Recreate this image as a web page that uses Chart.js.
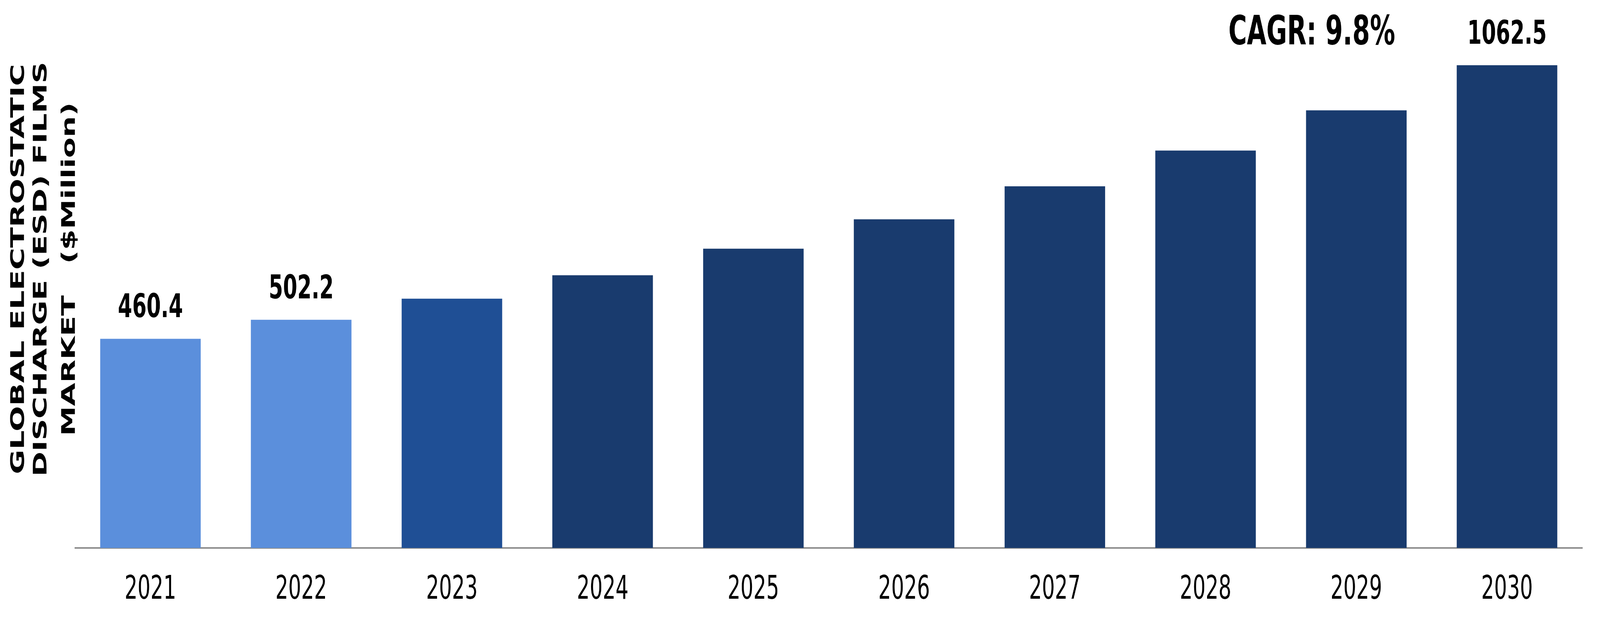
<!DOCTYPE html>
<html>
<head>
<meta charset="utf-8">
<title>Global ESD Films Market</title>
<script src="https://cdn.jsdelivr.net/npm/chart.js@4.4.1/dist/chart.umd.min.js"></script>
<style>
  html, body { margin: 0; padding: 0; background: #ffffff; overflow: hidden; }
</style>
</head>
<body>
<!-- drawn at the reference size, then fitted to the window -->
<canvas id="myChart" width="6543" height="1631" style="width:100vw;height:100vh;display:block"></canvas>
<script>
// values ($ million)
const years = ['2021', '2022', '2023', '2024', '2025', '2026', '2027', '2028', '2029', '2030'];
const marketSize = [460.4, 502.2, 548.7, 600.2, 658.7, 723.3, 795.9, 874.7, 963.2, 1062.5];
const labelledYears = ['2021', '2022', '2030'];
const cagrText = 'CAGR: 9.8%';
const axisTitle = ['GLOBAL ELECTROSTATIC', 'DISCHARGE (ESD) FILMS', 'MARKET   ($Million)'];

// historical years light, base year medium, forecast dark
function barColor(ctx) {
    let y = Number(years[ctx.dataIndex]);
    if (y <= 2022) return '#5b8fdc';
    if (y === 2023) return '#1f4f95';
    return '#193b6e';
}

const labelPlugin = {
    id: 'barLabels',
    afterDatasetsDraw(chart) {
        let ctx = chart.ctx;
        let meta = chart.getDatasetMeta(0);
        ctx.save();
        ctx.fillStyle = '#000000';
        ctx.textAlign = 'center';
        ctx.textBaseline = 'alphabetic';
        ctx.font = 'bold 84px "DejaVu Sans"';
        for (let i = 0; i < meta.data.length; i++) {
            if (labelledYears.includes(years[i])) {
                let bar = meta.data[i];
                ctx.fillText(marketSize[i].toFixed(1), bar.x, bar.y - 55);
            }
        }
        // CAGR note sits on the same line as the last label
        let last = meta.data[meta.data.length - 1];
        ctx.font = 'bold 103px "DejaVu Sans"';
        ctx.fillText(cagrText, chart.scales.x.getPixelForValue(8) - 182, last.y - 53);

        // rotated y axis title, one column per line
        ctx.font = 'bold 77px "DejaVu Sans"';
        let baselines = [98, 190, 306];
        for (let i = 0; i < axisTitle.length; i++) {
            ctx.save();
            ctx.translate(baselines[i], 689);
            ctx.rotate(-Math.PI / 2);
            ctx.fillText(axisTitle[i], 0, 0);
            ctx.restore();
        }
        ctx.restore();
    }
};

function drawChart(xdata, ydata) {
    let ctx = document.getElementById('myChart').getContext('2d');
    let config = {
        type: 'bar',
        data: {
            labels: xdata,
            datasets: [{
                label: 'Market size',
                data: ydata,
                backgroundColor: barColor,
                borderWidth: 0,
                barPercentage: 0.667,
                categoryPercentage: 1.0
            }]
        },
        options: {
            responsive: false,
            animation: false,
            devicePixelRatio: 1,
            layout: {
                padding: { left: 307, right: 72, top: 7, bottom: 11 }
            },
            plugins: {
                legend: { display: false },
                tooltip: { enabled: false }
            },
            scales: {
                x: {
                    grid: { display: false, drawTicks: false },
                    border: { display: true, color: '#8c8c8c', width: 4 },
                    ticks: {
                        color: '#000000',
                        padding: 67,
                        maxRotation: 0,
                        autoSkip: false,
                        font: { family: '"DejaVu Sans"', size: 83, lineHeight: 1 }
                    }
                },
                y: {
                    display: false,
                    min: 0,
                    max: 1200
                }
            }
        },
        plugins: [labelPlugin]
    };
    let myChart = new Chart(ctx, config);
}

drawChart(years, marketSize);
</script>
</body>
</html>
